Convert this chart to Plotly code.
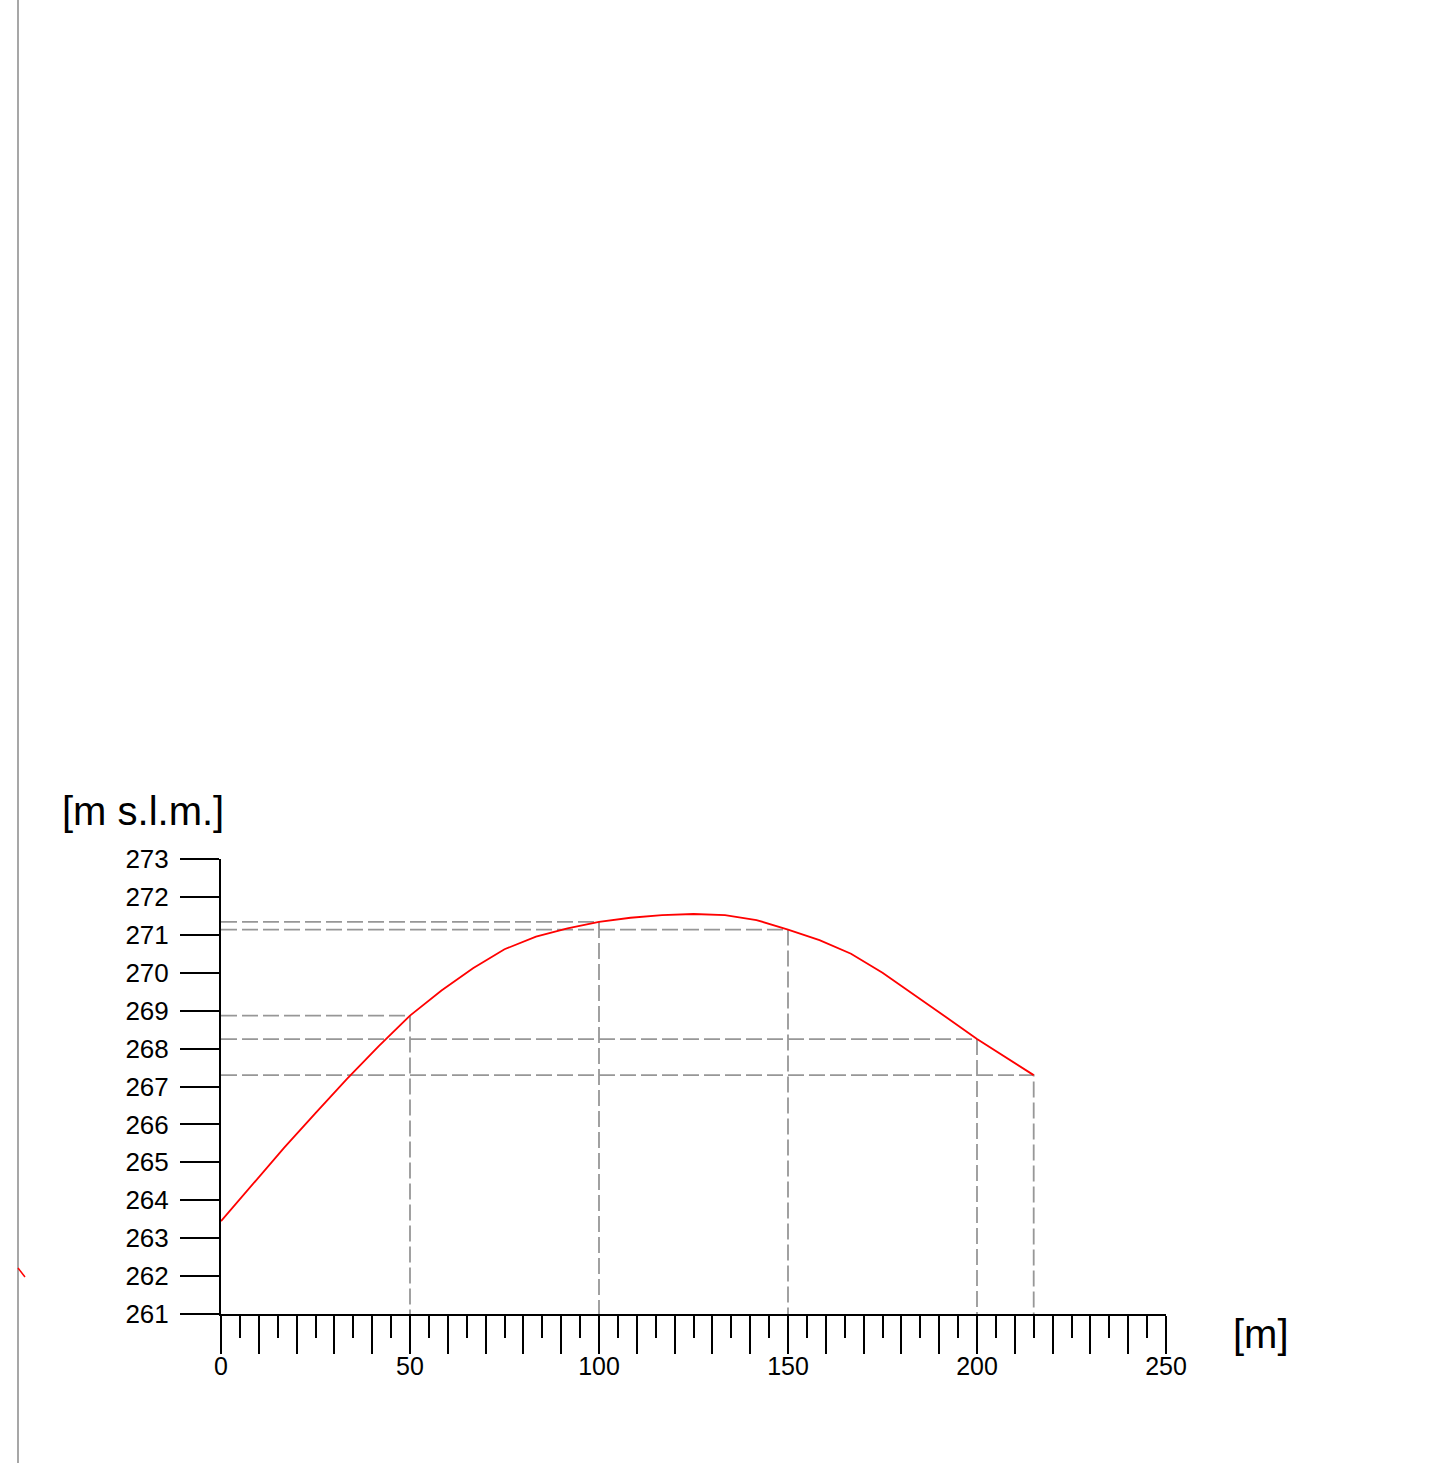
import plotly.graph_objects as go

# Profile data (distance [m], elevation [m s.l.m.])
dist = [0, 8.33, 16.67, 25, 33.33, 41.67, 50, 58.33, 66.67, 75, 83.33, 91.67,
        100, 108.33, 116.67, 125, 133.33, 141.67, 150, 158.33, 166.67, 175,
        183.33, 191.67, 200, 207.5, 215]
elev = [263.45, 264.42, 265.38, 266.3, 267.2, 268.06, 268.87, 269.53, 270.12,
        270.62, 270.95, 271.17, 271.34, 271.45, 271.52, 271.55, 271.52, 271.39,
        271.14, 270.86, 270.5, 270.0, 269.43, 268.84, 268.25, 267.77, 267.3]

# Guide (reference) stations with dashed lines
guide_x = [50, 100, 150, 200, 215]

x_range = [0, 250]
y_range = [261, 273]
x_major = list(range(0, 251, 10))
x_labels = [str(v) if v % 50 == 0 else "" for v in x_major]
y_ticks = list(range(261, 274))

FONT = "Liberation Sans, Arial, sans-serif"

fig = go.Figure()

# dashed guide lines
for gx in guide_x:
    gy = elev[min(range(len(dist)), key=lambda i: abs(dist[i] - gx))]
    fig.add_trace(go.Scatter(
        x=[x_range[0], gx, gx], y=[gy, gy, y_range[0]],
        mode="lines",
        line=dict(color="#979797", width=1.8, dash="16px,5px"),
        hoverinfo="skip", showlegend=False,
    ))

# profile line
fig.add_trace(go.Scatter(
    x=dist, y=elev, mode="lines",
    line=dict(color="#ff0000", width=1.8),
    showlegend=False,
))

W, H = 1440, 1463
L, T, R, B = 221, 859, 274, 149
pw, ph = W - L - R, H - T - B

def px(xp):
    return (xp - L) / pw

def py(yp):
    return (H - B - yp) / ph

fig.update_layout(
    width=W, height=H,
    margin=dict(l=L, r=R, t=T, b=B),
    paper_bgcolor="white", plot_bgcolor="white",
    font=dict(family=FONT, size=25, color="black"),
    showlegend=False,
    xaxis=dict(
        range=x_range, tickmode="array", tickvals=x_major, ticktext=x_labels,
        ticks="outside", ticklen=38, tickwidth=2, tickcolor="black",
        showline=True, linewidth=2, linecolor="black",
        showgrid=False, zeroline=False, ticklabelstandoff=-9,
        tickfont=dict(family=FONT, size=25, color="black"),
        minor=dict(dtick=5, tick0=0, ticks="outside", ticklen=22,
                   tickwidth=2, tickcolor="black", showgrid=False),
    ),
    yaxis=dict(
        range=y_range, tickmode="array", tickvals=y_ticks,
        ticks="outside", ticklen=39, tickwidth=2, tickcolor="black",
        showline=True, linewidth=2, linecolor="black",
        showgrid=False, zeroline=False, ticklabelstandoff=6,
        tickfont=dict(family=FONT, size=26, color="black"),
    ),
    annotations=[
        dict(text="[m s.l.m.]", xref="paper", yref="paper",
             x=px(60), y=py(811), xanchor="left", yanchor="middle",
             showarrow=False, font=dict(family=FONT, size=40, color="black")),
        dict(text="[m]", xref="paper", yref="paper",
             x=px(1231), y=py(1334), xanchor="left", yanchor="middle",
             showarrow=False, font=dict(family=FONT, size=40, color="black")),
    ],
    shapes=[
        dict(type="line", xref="paper", yref="paper",
             x0=px(18), x1=px(18), y0=py(H + 5), y1=py(-5),
             line=dict(color="#8a8a8a", width=1.5)),
        dict(type="line", xref="paper", yref="paper",
             x0=px(18), x1=px(25), y0=py(1268), y1=py(1277),
             line=dict(color="#ff0000", width=1.5)),
    ],
)

fig.write_html("out.html", config={"displayModeBar": False},
               post_script="document.body.style.margin='0';")
